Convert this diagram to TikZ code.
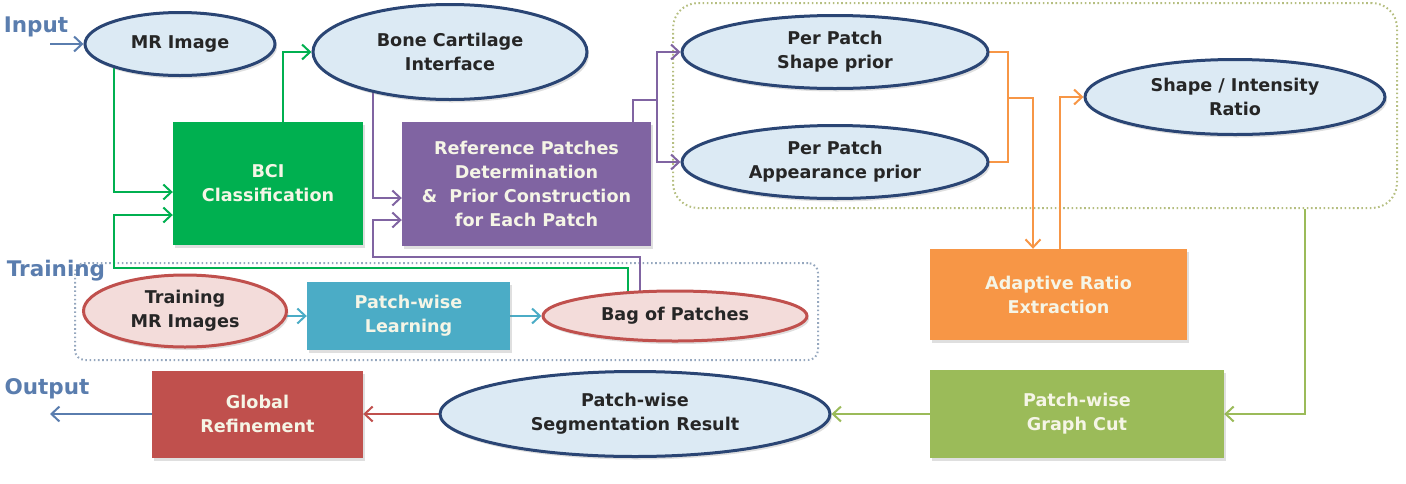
\documentclass[tikz,border=0pt]{standalone}
\usepackage{fontspec}
\setmainfont{DejaVu Sans}
\usetikzlibrary{shapes.geometric,arrows.meta,shadows,backgrounds}
\definecolor{ellfill}{HTML}{DCEAF4}
\definecolor{ellbord}{HTML}{2A4574}
\definecolor{pinkfill}{HTML}{F3DCDA}
\definecolor{pinkbord}{HTML}{C0504D}
\definecolor{cgreen}{HTML}{00B050}
\definecolor{cpurple}{HTML}{8064A2}
\definecolor{cteal}{HTML}{4BACC6}
\definecolor{corange}{HTML}{F79646}
\definecolor{colive}{HTML}{9BBB59}
\definecolor{cred}{HTML}{C0504D}
\definecolor{clabel}{HTML}{5A7DAE}
\definecolor{boxtext}{HTML}{F5F5E6}
\definecolor{dotolive}{HTML}{B5BE80}
\definecolor{dotblue}{HTML}{95A7BE}
\begin{document}
\begin{tikzpicture}[x=1pt,y=-1pt,
  txt/.style={font=\bfseries\fontsize{17.6}{24}\selectfont},
  ell/.style={ellipse, draw=ellbord, line width=3pt, fill=ellfill, inner sep=0pt,
    align=center, txt, text=black!85,
    drop shadow={shadow xshift=2pt, shadow yshift=-3pt, opacity=0.25}},
  pell/.style={ell, draw=pinkbord, fill=pinkfill},
  blk/.style={rectangle, draw=none, inner sep=0pt, align=center, txt, text=boxtext,
    drop shadow={shadow xshift=2pt, shadow yshift=-3pt, opacity=0.25}},
  lab/.style={font=\bfseries\fontsize{21.5}{24}\selectfont, text=clabel, inner sep=0pt},
  grp/.style={rectangle, line width=2pt, dash pattern=on 1.6pt off 2.6pt, inner sep=0pt},
  con/.style={line width=2pt, -{Straight Barb[length=8pt,width=15pt]}},
  line/.style={line width=2pt},
  gcon/.style={con, draw=cgreen},
  pcon/.style={con, draw=cpurple},
  ocon/.style={con, draw=corange},
  vcon/.style={con, draw=colive},
  rcon/.style={con, draw=cred},
  tcon/.style={con, draw=cteal},
  bcon/.style={con, draw=clabel}
]
\useasboundingbox (0,0) rectangle (1406,483);

% labels
\node[lab] (linput) at (36,27) {Input};
\node[lab] (ltrain) at (56,271) {Training};
\node[lab] (loutput) at (47,389) {Output};

% ellipses
\node[ell, minimum width=190pt, minimum height=63pt] (mr) at (180,44) {MR Image};
\node[ell, minimum width=274pt, minimum height=95pt] (bone) at (450,52) {Bone Cartilage\\Interface};
\node[ell, minimum width=306pt, minimum height=73pt] (shp) at (835,52) {Per Patch\\Shape prior};
\node[ell, minimum width=306pt, minimum height=73pt] (app) at (835,162) {Per Patch\\Appearance prior};
\node[ell, minimum width=300pt, minimum height=75pt] (sir) at (1235,97) {Shape / Intensity\\Ratio};
\node[ell, minimum width=390pt, minimum height=85pt] (seg) at (635,414) {Patch-wise\\Segmentation Result};
\node[pell, minimum width=203pt, minimum height=72pt] (tmr) at (185,311) {Training\\MR Images};
\node[pell, minimum width=264pt, minimum height=50pt] (bag) at (675,316) {Bag of Patches};

% boxes
\node[blk, fill=cgreen, minimum width=190pt, minimum height=123pt] (bci) at (268,183.5) {BCI\\Classification};
\node[blk, fill=cpurple, minimum width=249pt, minimum height=124pt] (ref) at (526.5,184) {Reference Patches\\Determination\\\&\ \ Prior Construction\\for Each Patch};
\node[blk, fill=corange, minimum width=257pt, minimum height=91pt] (adr) at (1058.5,294.5) {Adaptive Ratio\\Extraction};
\node[blk, fill=colive, minimum width=294pt, minimum height=88pt] (gc) at (1077,414) {Patch-wise\\Graph Cut};
\node[blk, fill=cred, minimum width=211pt, minimum height=87pt] (glob) at (257.5,414) {Global\\Refinement};
\node[blk, fill=cteal, minimum width=203pt, minimum height=68pt] (pwl) at (408.5,316) {Patch-wise\\Learning};

\begin{scope}[on background layer]
  \node[grp, draw=dotolive, rounded corners=25pt, minimum width=724pt, minimum height=205pt] (grp1) at (1035,105.5) {};
  \node[grp, draw=dotblue, rounded corners=10pt, minimum width=743pt, minimum height=97pt] (grp2) at (446.5,311.5) {};

  \coordinate (inA) at (50,44);
  \coordinate (outA) at (50,414);
  \coordinate (g1) at (114,192);
  \coordinate (g2) at (283,52);
  \coordinate (g3) at (628,268);
  \coordinate (g4) at (114,268);
  \coordinate (g5) at (114,215);
  \coordinate (p1) at (373,198);
  \coordinate (p2) at (640,257);
  \coordinate (p3) at (373,257);
  \coordinate (p4) at (373,220);
  \coordinate (p5) at (633,100);
  \coordinate (p6) at (657,100);
  \coordinate (o1) at (1008,98);
  \coordinate (o2) at (1033,98);
  \coordinate (o3) at (1060,97);
  \coordinate (v1) at (1305,414);

  % input / output
  \draw[bcon] (inA) -- (mr.west);
  \draw[bcon] (glob.west) -- (outA);

  % green
  \draw[gcon] (mr.center -| g1) -- (g1) -- (g1 -| bci.west);
  \draw[gcon] (bci.center -| g2) -- (g2) -- (bone.west);
  \draw[gcon] (bag.center -| g3) -- (g3) -- (g4) -- (g5) -- (g5 -| bci.west);

  % purple
  \draw[pcon] (bone.center -| p1) -- (p1) -- (p1 -| ref.west);
  \draw[pcon] (bag.center -| p2) -- (p2) -- (p3) -- (p4) -- (p4 -| ref.west);
  \draw[pcon] (ref.center -| p5) -- (p5) -- (p6) |- (shp.west);
  \draw[pcon] (p6) |- (app.west);

  % orange
  \draw[line, draw=corange] (shp.center) -| (o1);
  \draw[line, draw=corange] (app.center) -| (o1);
  \draw[ocon] (o1) -- (o2) -- (o2 |- adr.north);
  \draw[ocon] (adr.center -| o3) -- (o3) -- (o3 -| sir.west);

  % olive
  \draw[vcon] (grp1.south -| v1) -- (v1) -- (v1 -| gc.east);
  \draw[vcon] (gc.west) -- (seg.east);

  % red
  \draw[rcon] (seg.west) -- (glob.east);

  % teal
  \draw[tcon] (tmr.center |- pwl.west) -- (pwl.west);
  \draw[tcon] (pwl.east) -- (bag.west);
\end{scope}
\end{tikzpicture}
\end{document}
